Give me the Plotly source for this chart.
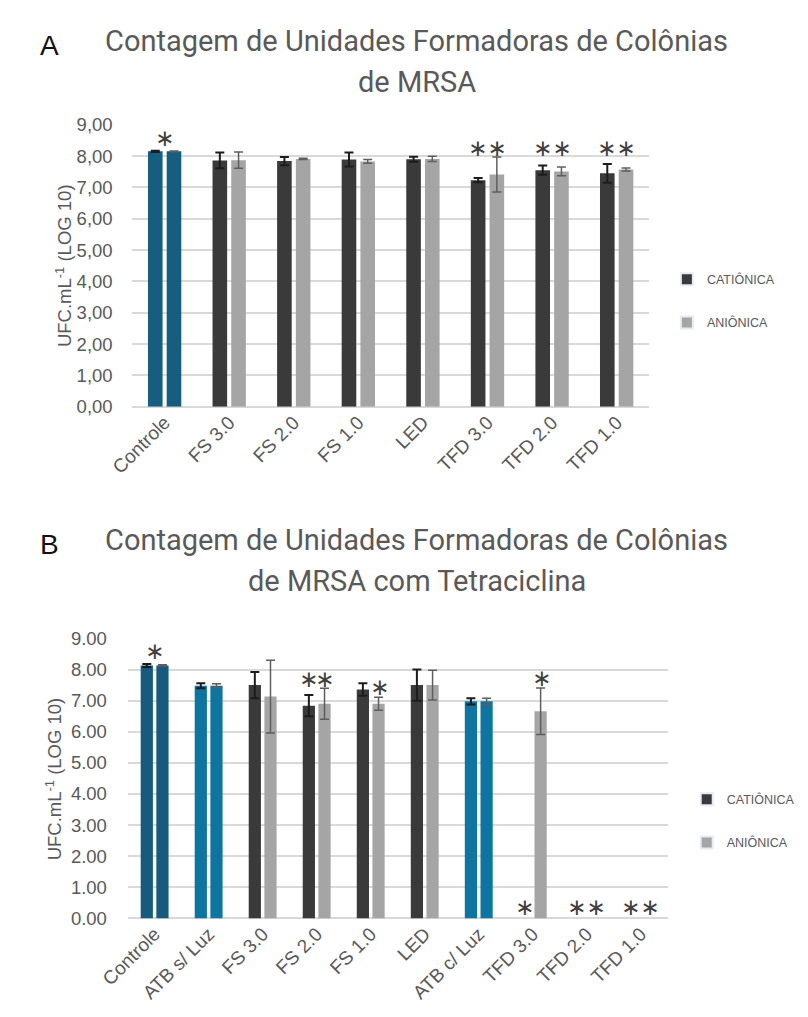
import plotly.graph_objects as go

# The page adds an 8 px body margin, so the figure is 16 px smaller than the window
W, H = 808, 1017
PAD = 8
FW, FH = W - 2 * PAD, H - 2 * PAD

# ---------------- Panel A data ----------------
cats_A = ["Controle", "FS 3.0", "FS 2.0", "FS 1.0", "LED", "TFD 3.0", "TFD 2.0", "TFD 1.0"]
cat_A = [8.15, 7.86, 7.84, 7.89, 7.90, 7.23, 7.55, 7.45]
cat_A_err = [0.02, 0.25, 0.13, 0.22, 0.08, 0.07, 0.15, 0.30]
ani_A = [8.15, 7.87, 7.91, 7.83, 7.91, 7.41, 7.51, 7.57]
ani_A_err = [0.01, 0.26, 0.02, 0.06, 0.08, 0.56, 0.14, 0.05]
ticks_A = ["0,00", "1,00", "2,00", "3,00", "4,00", "5,00", "6,00", "7,00", "8,00", "9,00"]
star_A_cat = ["Controle", "TFD 3.0", "TFD 2.0", "TFD 1.0"]
star_A_y = [8.58, 8.25, 8.25, 8.25]
star_A_txt = ["*", "**", "**", "**"]
star_A_series = ["both", "both", "both", "both"]

# ---------------- Panel B data ----------------
cats_B = ["Controle", "ATB s/ Luz", "FS 3.0", "FS 2.0", "FS 1.0", "LED", "ATB c/ Luz",
          "TFD 3.0", "TFD 2.0", "TFD 1.0"]
cat_B = [8.13, 7.48, 7.50, 6.84, 7.36, 7.50, 6.98, 0, 0, 0]
cat_B_err = [0.05, 0.08, 0.42, 0.34, 0.20, 0.50, 0.10, 0, 0, 0]
ani_B = [8.13, 7.48, 7.13, 6.90, 6.90, 7.50, 6.98, 6.66, 0, 0]
ani_B_err = [0.02, 0.06, 1.17, 0.50, 0.21, 0.48, 0.10, 0.75, 0, 0]
ticks_B = ["0.00", "1.00", "2.00", "3.00", "4.00", "5.00", "6.00", "7.00", "8.00", "9.00"]
star_B_cat = ["Controle", "FS 2.0", "FS 2.0", "FS 1.0", "TFD 3.0", "TFD 3.0", "TFD 2.0", "TFD 1.0"]
star_B_y = [8.61, 7.68, 7.68, 7.45, 7.73, 0.36, 0.36, 0.36]
star_B_txt = ["*", "*", "*", "*", "*", "*", "**", "**"]
star_B_series = ["both", "cat", "ani", "ani", "ani", "cat", "both", "both"]

series_names = ["CATIÔNICA", "ANIÔNICA"]
title_A = ["Contagem de Unidades Formadoras de Colônias", "de MRSA"]
title_B = ["Contagem de Unidades Formadoras de Colônias", "de MRSA com Tetraciclina"]
y_title = "UFC.mL<sup>-1</sup> (LOG 10)"

# ---------------- styles ----------------
DARK = "#3a3a3a"
LIGHT = "#a5a5a5"
CTRL_BLUE = "#155e80"
ATB_BLUE = "#0e74a0"
TXT = "#595959"
GRID = "#d9d9d9"
BARGAP = 0.42
GROUPGAP = 0.22

# plot areas in window pixels (left, right, top, bottom)
areaA = (110, 657, 116, 404)
areaB = (105, 677, 640.7, 926.7)


def px_x(v):
    return (v - PAD) / FW


def px_y(v):
    return 1 - (v - PAD) / FH


def colors(cats, base, ctrl):
    out = []
    for c in cats:
        if c == "Controle":
            out.append(ctrl)
        elif c.startswith("ATB"):
            out.append(ATB_BLUE)
        else:
            out.append(base)
    return out


def nz(vals):
    # zero-height bars draw nothing (and no error caps) in the reference
    return [v if v else None for v in vals]


fig = go.Figure()


def add_panel(cats, cvals, cerr, avals, aerr, xa, ya, legend, ctrl):
    fig.add_trace(go.Bar(
        x=cats, y=nz(cvals), name=series_names[0], xaxis=xa, yaxis=ya,
        offsetgroup="c", showlegend=False,
        marker=dict(color=colors(cats, DARK, ctrl), line=dict(width=0)),
        error_y=dict(type="data", array=cerr, visible=True, color="#1c1c1c",
                     thickness=2, width=4.5)))
    fig.add_trace(go.Bar(
        x=cats, y=nz(avals), name=series_names[1], xaxis=xa, yaxis=ya,
        offsetgroup="a", showlegend=False,
        marker=dict(color=colors(cats, LIGHT, ctrl), line=dict(width=0)),
        error_y=dict(type="data", array=aerr, visible=True, color="#5e5e5e",
                     thickness=1.5, width=4.5)))
    # legend entries (series colours)
    for nm, col, og in [(series_names[0], DARK, "c"), (series_names[1], LIGHT, "a")]:
        fig.add_trace(go.Bar(
            x=[cats[0]], y=[None], name=nm, xaxis=xa, yaxis=ya, offsetgroup=og,
            marker=dict(color=col), legend=legend, legendgroup=legend + nm,
            showlegend=True))


add_panel(cats_A, cat_A, cat_A_err, ani_A, ani_A_err, "x", "y", "legend", CTRL_BLUE)
add_panel(cats_B, cat_B, cat_B_err, ani_B, ani_B_err, "x2", "y2", "legend2", "#165b7d")


def axis_layout(area, cats, ticks, gap):
    l, r, t, b = area
    xa = dict(domain=[px_x(l), px_x(r)], type="category", categoryorder="array",
              categoryarray=cats, range=[-0.5, len(cats) - 0.5], autorange=False,
              tickangle=-45, showgrid=False, showline=False,
              zeroline=False, ticks="",
              tickfont=dict(family="Liberation Sans", size=19, color=TXT))
    ya = dict(domain=[px_y(b), px_y(t)], range=[0, 9], autorange=False,
              tickvals=list(range(10)),
              ticktext=ticks, showgrid=True, gridcolor=GRID, gridwidth=1.5,
              zeroline=True, zerolinecolor=GRID, zerolinewidth=1.5, showline=False,
              ticks="outside", ticklen=gap, tickcolor="rgba(0,0,0,0)",
              tickfont=dict(family="Liberation Sans", size=18.5, color=TXT))
    return xa, ya


xA, yA = axis_layout(areaA, cats_A, ticks_A, 15)
xB, yB = axis_layout(areaB, cats_B, ticks_B, 16)
xA["anchor"] = "y"
yA["anchor"] = "x"
xB["anchor"] = "y2"
yB["anchor"] = "x2"

annotations = []


def add_stars(cats_star, ys, txts, series, xref, yref, area, ncat):
    l, r, t, b = area
    cat_px = (r - l) / ncat
    slot = cat_px * (1 - BARGAP) / 2
    for c, y, tx, s in zip(cats_star, ys, txts, series):
        shift = 0
        if s == "cat":
            shift = -slot / 2
        elif s == "ani":
            shift = slot / 2
        annotations.append(dict(
            x=c, y=y, xref=xref, yref=yref, text=tx.replace("*", "∗"),
            showarrow=False, xshift=shift, xanchor="center", yanchor="middle",
            font=dict(family="DejaVu Sans", size=23, color="#404040")))


add_stars(star_A_cat, star_A_y, star_A_txt, star_A_series, "x", "y", areaA, len(cats_A))
add_stars(star_B_cat, star_B_y, star_B_txt, star_B_series, "x2", "y2", areaB, len(cats_B))


def add_title(lines, y1, y2, letter, ly):
    for txt, yy in zip(lines, [y1, y2]):
        annotations.append(dict(
            x=px_x(411), y=px_y(yy), xref="paper", yref="paper", text=txt,
            showarrow=False, xanchor="center", yanchor="middle",
            font=dict(family="Roboto", size=29, color=TXT)))
    annotations.append(dict(
        x=px_x(22), y=px_y(ly), xref="paper", yref="paper", text=letter,
        showarrow=False, xanchor="center", yanchor="middle",
        font=dict(family="Liberation Sans", size=28, color="#111111")))


add_title(title_A, 30, 72, "A", 35)
add_title(title_B, 540, 582, "B", 545)

for xc, area in [(37, areaA), (27, areaB)]:
    annotations.append(dict(
        x=px_x(xc), y=px_y((area[2] + area[3]) / 2), xref="paper", yref="paper",
        text=y_title, textangle=-90, showarrow=False, xanchor="center", yanchor="middle",
        font=dict(family="Liberation Sans", size=18.5, color=TXT)))

legend_common = dict(orientation="v", xanchor="left", yanchor="top",
                     font=dict(family="Liberation Sans", size=12.5, color=TXT),
                     bgcolor="rgba(0,0,0,0)", tracegroupgap=24, itemsizing="constant")

fig.update_layout(
    width=FW, height=FH, margin=dict(l=0, r=0, t=0, b=0),
    paper_bgcolor="white", plot_bgcolor="white",
    barmode="group", bargap=BARGAP, bargroupgap=GROUPGAP,
    xaxis=xA, yaxis=yA, xaxis2=xB, yaxis2=yB,
    legend=dict(x=px_x(676), y=px_y(259), **legend_common),
    legend2=dict(x=px_x(697), y=px_y(790), **legend_common),
    annotations=annotations,
)

fig.write_html("out.html", config={"displayModeBar": False})
